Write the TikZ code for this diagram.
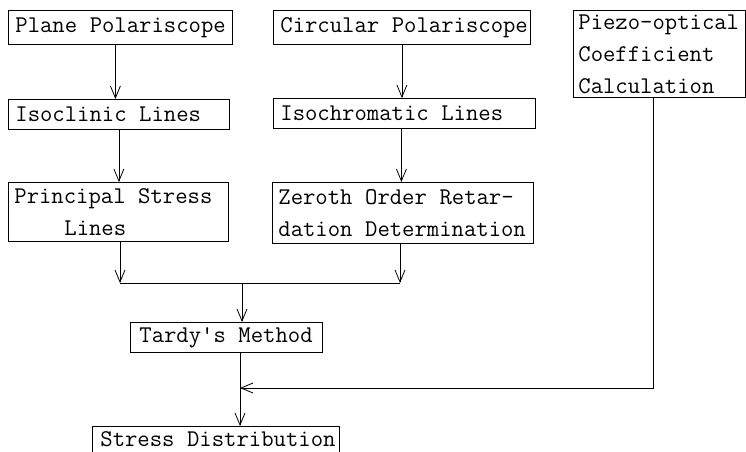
\documentclass[tikz,border=0pt]{standalone}
\usetikzlibrary{arrows.meta}
\newcommand\tsp{\hbox to 0.525em{}}
\begin{document}
\begin{tikzpicture}[x=1pt,y=-1pt,
  box/.style={draw, line width=0.8pt, anchor=north west, align=left,
    inner xsep=7pt, inner ysep=0pt,
    font=\ttfamily\fontsize{24}{32}\selectfont},
  arr/.style={line width=0.8pt, -{Straight Barb[length=12pt,width=10pt,line width=0.8pt]}},
  ln/.style={line width=0.8pt}]
\useasboundingbox (0,0) rectangle (746,451);

\node[box, text width=210pt, minimum height=34pt] (pp) at (8,10) {Plane\tsp Polariscope};
\node[box, text width=243pt, minimum height=34pt] (cp) at (273,10) {Circular\tsp Polariscope};
\node[box, inner xsep=5pt, text width=162pt, minimum height=87pt] (pz) at (573,10) {Piezo-optical\\Coefficient\\Calculation};
\node[box, text width=207pt, minimum height=30pt] (il) at (8,99) {Isoclinic\tsp Lines};
\node[box, text width=248pt, minimum height=30pt] (ic) at (273,98) {Isochromatic\tsp Lines};
\node[box, inner xsep=6pt, text width=208pt, minimum height=59pt] (ps) at (8,182) {Principal\tsp Stress\\\hspace*{50pt}Lines};
\node[box, inner xsep=6pt, text width=249pt, minimum height=61pt] (zo) at (272,182) {Zeroth\tsp Order\tsp Retar-\\dation\tsp Determination};
\node[box, inner xsep=9pt, text width=174pt, minimum height=30pt] (td) at (130,322) {Tardy\textquotesingle s\tsp Method};
\node[box, inner xsep=8pt, text width=231pt, minimum height=26pt] (sd) at (92,426) {Stress\tsp Distribution};

\draw[arr] ([xshift=-5pt]pp.south) -- ([xshift=-5pt]pp.south |- il.north);
\draw[arr] (cp.south) -- (cp.south |- ic.north);
\draw[arr] (il.south) -- (il.south |- ps.north);
\draw[arr] ([xshift=-3pt]ic.south) -- ([xshift=-3pt]ic.south |- zo.north);

\coordinate (j1) at (120,283);
\coordinate (j2) at (400,283);
\coordinate (j) at (242,283);
\draw[arr] (ps.south -| j1) -- (j1);
\draw[arr] (zo.south -| j2) -- (j2);
\draw[ln] (j1) -- (j2);
\draw[arr] (j) -- (j |- td.north);

\coordinate (k) at (240,388);
\coordinate (pzc) at (653,388);
\draw[arr] (td.south -| k) -- (sd.north -| k);
\draw[arr] (pz.south -| pzc) -- (pzc) -- (k);
\end{tikzpicture}
\end{document}
